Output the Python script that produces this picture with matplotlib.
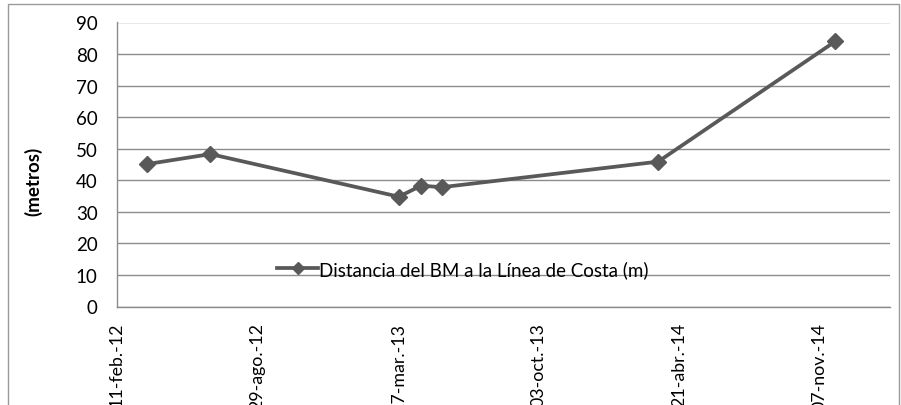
import matplotlib
matplotlib.use("Agg")
import matplotlib.pyplot as plt
import matplotlib.dates as mdates
from matplotlib.patches import Rectangle
from datetime import date

plt.rcParams['font.family'] = ['Lato', 'DejaVu Sans']

# Data
dates = [date(2012, 3, 24), date(2012, 6, 23), date(2013, 3, 18), date(2013, 4, 19),
         date(2013, 5, 18), date(2014, 3, 22), date(2014, 11, 29)]
values = [45.1, 48.3, 34.8, 38.3, 37.8, 45.9, 84.0]
series_name = "Distancia del BM a la Línea de Costa (m)"
tick_dates = [date(2012, 2, 11), date(2012, 8, 29), date(2013, 3, 17),
              date(2013, 10, 3), date(2014, 4, 21), date(2014, 11, 7)]
tick_labels = ["11-feb.-12", "29-ago.-12", "17-mar.-13", "03-oct.-13", "21-abr.-14", "07-nov.-14"]
y_ticks = [0, 10, 20, 30, 40, 50, 60, 70, 80, 90]
x_min, x_max = date(2012, 2, 11), date(2015, 2, 15)

W, H = 901, 406
fig = plt.figure(figsize=(W / 100, H / 100), dpi=100)
ax = fig.add_axes([117 / W, 1 - 307.5 / H, (890 - 117) / W, (307.5 - 23.5) / H])

grid_c = '#8c8c8c'
line_c = '#595959'
fs = 13.5

ax.plot(dates, values, color=line_c, lw=2.7, marker='D', markersize=8.5,
        markerfacecolor=line_c, markeredgecolor=line_c, label=series_name, zorder=3)

ax.set_xlim(mdates.date2num(x_min), mdates.date2num(x_max))
ax.set_ylim(0, 90)
ax.set_yticks(y_ticks)
ax.set_xticks([mdates.date2num(d) for d in tick_dates])
ax.set_xticklabels(tick_labels, rotation=90, va='top', ha='center')
ax.tick_params(axis='both', length=0, labelsize=fs, colors='black')
ax.tick_params(axis='x', pad=11, labelsize=12.8)
ax.tick_params(axis='y', pad=14)
ax.yaxis.grid(True, color=grid_c, lw=1)
ax.set_axisbelow(True)
for s in ['top', 'right']:
    ax.spines[s].set_visible(False)
for s in ['left', 'bottom']:
    ax.spines[s].set_color(grid_c)
    ax.spines[s].set_linewidth(1)

fig.text(33 / W, 1 - 181 / H, "(metros)", rotation=90, ha='center', va='center',
         fontsize=fs, fontweight='bold')

leg = ax.legend(loc='center left', bbox_to_anchor=((277 - 117) / 773, (307.5 - 270) / 284),
                frameon=False, fontsize=fs, handlelength=2.2, handletextpad=0.05,
                borderpad=0, borderaxespad=0, markerscale=0.75)

fig.patches.append(Rectangle((8 / W, -0.1), (899 - 8) / W, 1.1 - 5 / H, transform=fig.transFigure,
                             fill=False, edgecolor='#9a9a9a', lw=1))

fig.savefig("out.png", dpi=100)
